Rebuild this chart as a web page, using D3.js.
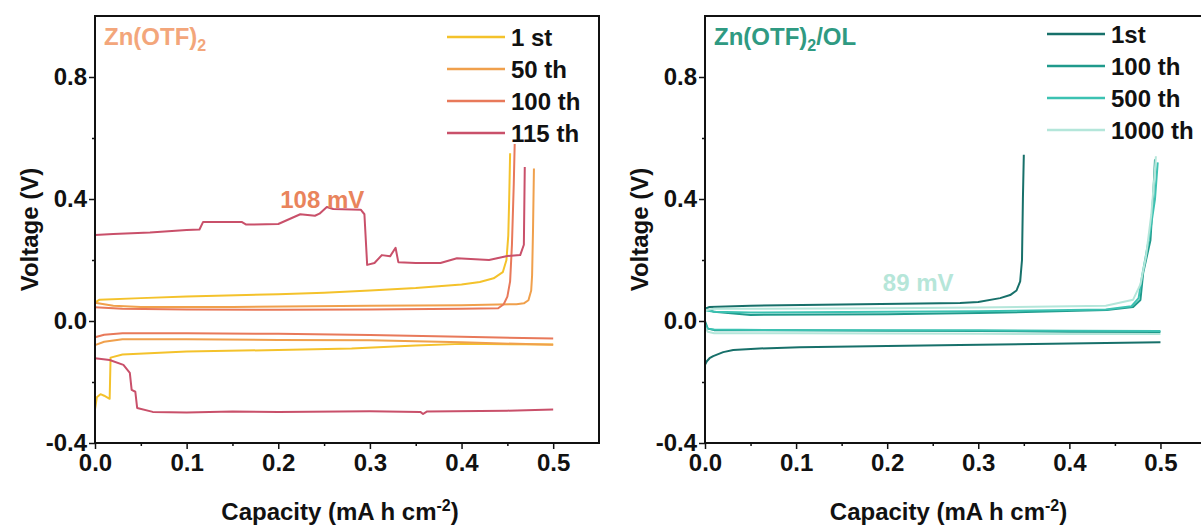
<!DOCTYPE html>
<html>
<head>
<meta charset="utf-8">
<script src="https://cdn.jsdelivr.net/npm/d3@7"></script>
<style>
  body { margin: 0; background: #fff; }
  svg { display: block; font-family: "Liberation Sans", Arial, sans-serif; font-weight: bold; }
</style>
</head>
<body>
<div id="main"></div>
<script>
// ---- data: [capacity (mA h cm-2), voltage (V)] ----
// Zn(OTF)2 panel
const zn1stCharge = [[0, 0.06], [0.005, 0.07], [0.05, 0.075], [0.1, 0.08], [0.2, 0.088], [0.25, 0.093], [0.3, 0.1], [0.35, 0.108], [0.4, 0.12], [0.42, 0.128], [0.435, 0.14], [0.445, 0.16], [0.449, 0.2], [0.451, 0.28], [0.452, 0.4], [0.453, 0.55]];
const zn1stDischarge = [[0, -0.29], [0.002, -0.25], [0.006, -0.24], [0.01, -0.245], [0.016, -0.255], [0.017, -0.12], [0.03, -0.11], [0.1, -0.1], [0.2, -0.095], [0.28, -0.09], [0.35, -0.08], [0.4, -0.075], [0.5, -0.077]];
const zn50thCharge = [[0, 0.06], [0.02, 0.05], [0.05, 0.046], [0.15, 0.046], [0.3, 0.05], [0.4, 0.052], [0.46, 0.055], [0.468, 0.058], [0.473, 0.068], [0.476, 0.1], [0.477, 0.15], [0.478, 0.3], [0.479, 0.5]];
const zn50thDischarge = [[0, -0.079], [0.01, -0.068], [0.03, -0.06], [0.1, -0.06], [0.2, -0.062], [0.3, -0.063], [0.4, -0.07], [0.5, -0.078]];
const zn100thCharge = [[0, 0.045], [0.03, 0.04], [0.1, 0.038], [0.2, 0.037], [0.3, 0.038], [0.4, 0.04], [0.44, 0.042], [0.446, 0.055], [0.45, 0.08], [0.453, 0.13], [0.455, 0.25], [0.457, 0.45], [0.458, 0.58]];
const zn100thDischarge = [[0, -0.053], [0.01, -0.045], [0.03, -0.04], [0.1, -0.04], [0.2, -0.042], [0.3, -0.046], [0.4, -0.052], [0.5, -0.057]];
const zn115thCharge = [[0, 0.282], [0.02, 0.285], [0.06, 0.29], [0.1, 0.298], [0.114, 0.3], [0.118, 0.325], [0.16, 0.325], [0.165, 0.316], [0.2, 0.318], [0.224, 0.35], [0.24, 0.345], [0.245, 0.352], [0.253, 0.374], [0.26, 0.367], [0.29, 0.365], [0.294, 0.35], [0.297, 0.184], [0.305, 0.19], [0.313, 0.216], [0.322, 0.212], [0.328, 0.24], [0.331, 0.193], [0.35, 0.19], [0.377, 0.19], [0.395, 0.206], [0.43, 0.2], [0.45, 0.213], [0.464, 0.216], [0.468, 0.25], [0.469, 0.505]];
const zn115thDischarge = [[0, -0.122], [0.016, -0.128], [0.031, -0.144], [0.038, -0.17], [0.04, -0.226], [0.044, -0.232], [0.046, -0.285], [0.063, -0.298], [0.1, -0.3], [0.15, -0.297], [0.2, -0.298], [0.3, -0.296], [0.355, -0.298], [0.358, -0.305], [0.362, -0.297], [0.45, -0.294], [0.5, -0.29]];

// Zn(OTF)2/OL panel
const ol1stCharge = [[0, 0.04], [0.005, 0.046], [0.05, 0.05], [0.15, 0.054], [0.28, 0.059], [0.3, 0.062], [0.324, 0.075], [0.335, 0.085], [0.342, 0.1], [0.346, 0.13], [0.348, 0.2], [0.349, 0.4], [0.35, 0.545]];
const ol1stDischarge = [[0, -0.144], [0.002, -0.132], [0.005, -0.122], [0.009, -0.115], [0.02, -0.102], [0.031, -0.095], [0.06, -0.09], [0.104, -0.086], [0.2, -0.082], [0.28, -0.079], [0.4, -0.074], [0.5, -0.07]];
const ol100thCharge = [[0, 0.04], [0.01, 0.03], [0.05, 0.02], [0.2, 0.022], [0.3, 0.026], [0.441, 0.036], [0.47, 0.046], [0.478, 0.069], [0.481, 0.157], [0.489, 0.265], [0.492, 0.41], [0.494, 0.53]];
const ol100thDischarge = [[0, 0.0], [0.003, -0.025], [0.01, -0.03], [0.1, -0.03], [0.2, -0.032], [0.3, -0.033], [0.4, -0.035], [0.5, -0.036]];
const ol500thCharge = [[0, 0.035], [0.01, 0.03], [0.05, 0.028], [0.2, 0.03], [0.3, 0.032], [0.44, 0.038], [0.468, 0.048], [0.476, 0.075], [0.48, 0.15], [0.488, 0.28], [0.494, 0.4], [0.497, 0.52]];
const ol500thDischarge = [[0, -0.01], [0.003, -0.025], [0.01, -0.028], [0.1, -0.03], [0.2, -0.03], [0.3, -0.03], [0.4, -0.032], [0.5, -0.033]];
const ol1000thCharge = [[0, 0.035], [0.01, 0.04], [0.05, 0.04], [0.2, 0.042], [0.3, 0.044], [0.44, 0.05], [0.47, 0.07], [0.478, 0.12], [0.484, 0.21], [0.49, 0.35], [0.493, 0.46], [0.495, 0.54]];
const ol1000thDischarge = [[0, -0.02], [0.003, -0.035], [0.01, -0.04], [0.1, -0.04], [0.2, -0.041], [0.3, -0.042], [0.4, -0.043], [0.5, -0.043]];

// legend / label text
const znLabels = ['1 st', '50 th', '100 th', '115 th'];
const olLabels = ['1st', '100 th', '500 th', '1000 th'];
const znColors = ['#f4c22b', '#f0a04c', '#e8795a', '#c9506a'];
const olColors = ['#17706a', '#1f9a8c', '#3cc2b2', '#b4e6da'];
const xTicks = [0, 0.1, 0.2, 0.3, 0.4, 0.5];
const yTicks = [-0.4, 0.0, 0.4, 0.8];

function main() {
  const width = 1201;
  const height = 526;
  const top = 16;
  const bottom = 443;
  const fontSize = '24px';

  const svg = d3.select('#main')
    .append('svg')
    .attr('width', width)
    .attr('height', height);

  // draws one panel
  function panel(opts) {
    const xScale = d3.scaleLinear().domain([0, 0.55]).range([opts.left, opts.right]);
    const yScale = d3.scaleLinear().domain([-0.4, 1.0]).range([bottom, top]);
    const g = svg.append('g');

    // minor ticks
    const xAxisMinor = d3.axisBottom(xScale)
      .tickValues(d3.range(0.05, 0.55, 0.1))
      .tickFormat('')
      .tickSize(3)
      .tickSizeOuter(0);
    const yAxisMinor = d3.axisLeft(yScale)
      .tickValues([-0.2, 0.2, 0.6])
      .tickFormat('')
      .tickSize(3)
      .tickSizeOuter(0);
    g.append('g').attr('transform', `translate(0, ${bottom})`).call(xAxisMinor);
    g.append('g').attr('transform', `translate(${opts.left}, 0)`).call(yAxisMinor);

    // major ticks
    const xAxis = d3.axisBottom(xScale)
      .tickValues(xTicks)
      .tickFormat(d3.format('.1f'))
      .tickSize(6)
      .tickPadding(5)
      .tickSizeOuter(0);
    const yAxis = d3.axisLeft(yScale)
      .tickValues(yTicks)
      .tickFormat(d3.format('.1f'))
      .tickSize(6)
      .tickPadding(2)
      .tickSizeOuter(0);
    g.append('g').attr('class', 'xAxis').attr('transform', `translate(0, ${bottom})`).call(xAxis);
    g.append('g').attr('class', 'yAxis').attr('transform', `translate(${opts.left}, 0)`).call(yAxis);

    g.selectAll('.tick line').attr('stroke', '#111').attr('stroke-width', 1.5);
    g.selectAll('.domain').remove();
    g.selectAll('.tick text')
      .attr('fill', '#111')
      .style('font-size', fontSize)
      .style('font-family', '"Liberation Sans", Arial, sans-serif')
      .style('font-weight', 'bold');
    g.selectAll('.yAxis .tick text').text(d => d3.format('.1f')(d).replace('−', '-'));

    // curves
    const line = d3.line().x(d => xScale(d[0])).y(d => yScale(d[1]));
    opts.series.forEach((s, i) => {
      s.forEach((branch) => {
        g.append('path')
          .datum(branch)
          .attr('d', line)
          .attr('fill', 'none')
          .attr('stroke', opts.colors[i])
          .attr('stroke-width', 2)
          .attr('stroke-linejoin', 'round');
      });
    });

    // frame
    g.append('rect')
      .attr('x', opts.left)
      .attr('y', top)
      .attr('width', opts.right - opts.left)
      .attr('height', bottom - top)
      .attr('fill', 'none')
      .attr('stroke', '#111')
      .attr('stroke-width', 2);

    // legend
    opts.labels.forEach((lab, i) => {
      const ly = opts.legendY + i * 32;
      g.append('line')
        .attr('x1', opts.legendX)
        .attr('x2', opts.legendX + 58)
        .attr('y1', ly)
        .attr('y2', ly)
        .attr('stroke', opts.colors[i])
        .attr('stroke-width', 2.5);
      g.append('text')
        .attr('x', opts.legendX + 64)
        .attr('y', ly + 9)
        .style('font-size', fontSize)
        .attr('fill', '#111')
        .text(lab);
    });

    // panel title
    const title = g.append('text')
      .attr('x', opts.left + 9)
      .attr('y', 45)
      .style('font-size', fontSize)
      .attr('fill', opts.titleColor);
    title.append('tspan').text('Zn(OTF)');
    title.append('tspan').attr('dy', 6).style('font-size', '16px').text('2');
    if (opts.titleTail) {
      title.append('tspan').attr('dy', -6).text(opts.titleTail);
    }

    // overpotential note
    g.append('text')
      .attr('x', xScale(opts.note[0]))
      .attr('y', yScale(opts.note[1]))
      .attr('text-anchor', 'middle')
      .style('font-size', fontSize)
      .attr('fill', opts.note[3])
      .text(opts.note[2]);

    // axis titles
    const xt = g.append('text')
      .attr('x', (opts.left + opts.right) / 2 - 7)
      .attr('y', 520)
      .attr('text-anchor', 'middle')
      .style('font-size', fontSize)
      .attr('fill', '#111');
    xt.append('tspan').text('Capacity (mA h cm');
    xt.append('tspan').attr('dy', -9).style('font-size', '16px').text('-2');
    xt.append('tspan').attr('dy', 9).text(')');

    g.append('text')
      .attr('transform', `translate(${opts.left - 57}, ${(top + bottom) / 2}) rotate(-90)`)
      .attr('text-anchor', 'middle')
      .style('font-size', fontSize)
      .attr('fill', '#111')
      .text('Voltage (V)');
  }

  panel({
    left: 95,
    right: 599,
    series: [[zn1stCharge, zn1stDischarge], [zn50thCharge, zn50thDischarge], [zn100thCharge, zn100thDischarge], [zn115thCharge, zn115thDischarge]],
    colors: znColors,
    labels: znLabels,
    legendX: 447,
    legendY: 37,
    titleColor: '#f3a67b',
    note: [0.248, 0.372, '108 mV', '#e9845c'],
  });

  panel({
    left: 705,
    right: 1206,
    series: [[ol1stCharge, ol1stDischarge], [ol100thCharge, ol100thDischarge], [ol500thCharge, ol500thDischarge], [ol1000thCharge, ol1000thDischarge]],
    colors: olColors,
    labels: olLabels,
    legendX: 1047,
    legendY: 34,
    titleColor: '#2f9a82',
    titleTail: '/OL',
    note: [0.234, 0.1, '89 mV', '#b6e6d9'],
  });
}

document.addEventListener('DOMContentLoaded', main);
</script>
</body>
</html>
